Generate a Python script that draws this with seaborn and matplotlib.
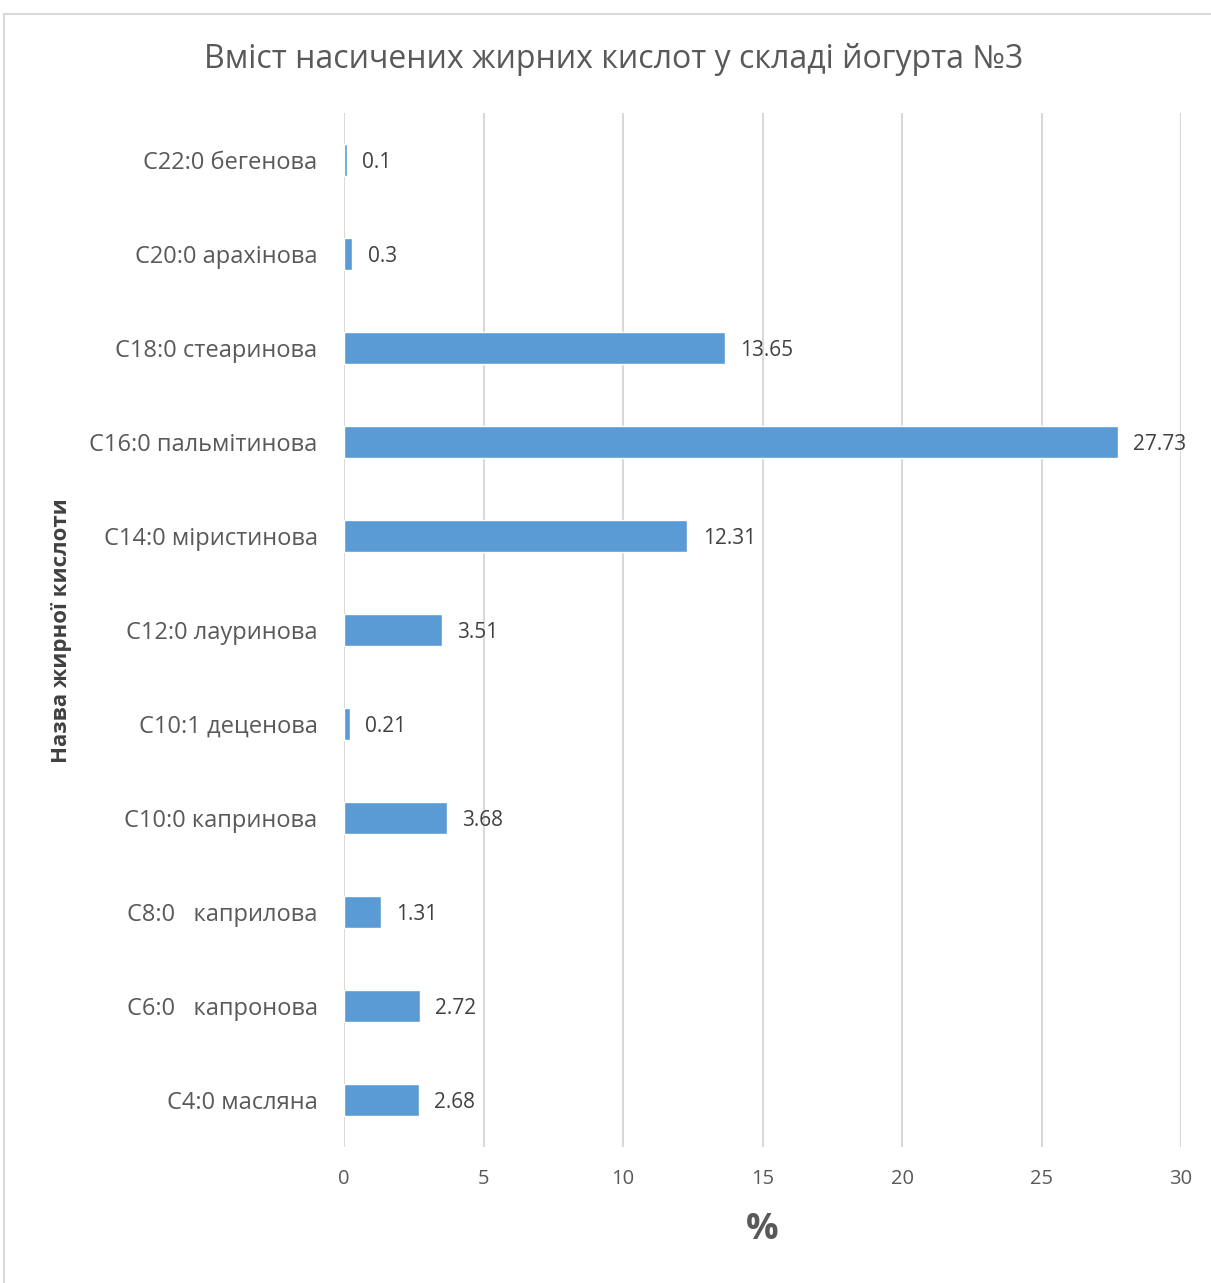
import matplotlib
matplotlib.use("Agg")
import matplotlib.pyplot as plt
import seaborn as sns
import pandas as pd
from matplotlib.patches import Rectangle

acids = [
    "C22:0 бегенова",
    "C20:0 арахінова",
    "C18:0 стеаринова",
    "C16:0 пальмітинова",
    "C14:0 міристинова",
    "C12:0 лауринова",
    "C10:1 деценова",
    "C10:0 капринова",
    "C8:0   каприлова",
    "C6:0   капронова",
    "C4:0 масляна",
]
values = [0.1, 0.3, 13.65, 27.73, 12.31, 3.51, 0.21, 3.68, 1.31, 2.72, 2.68]
x_ticks = [0, 5, 10, 15, 20, 25, 30]

title = "Вміст насичених жирних кислот у складі йогурта №3"
x_label = "%"
y_label = "Назва жирної кислоти"

sns.set_theme(style="white")
plt.rcParams["font.family"] = ["Open Sans", "DejaVu Sans"]

df = pd.DataFrame({"acid": acids, "value": values})

W, H = 1211, 1283
fig = plt.figure(figsize=(W / 100, H / 100), dpi=100)
ax = fig.add_axes([344 / W, 1 - 1147 / H, (1181 - 344) / W, (1147 - 113) / H])

sns.barplot(data=df, x="value", y="acid", order=acids, orient="h",
            color="#5B9BD5", saturation=1, width=0.35, ax=ax)

ax.set_xlim(0, 30)
ax.set_xticks(x_ticks)
ax.set_xticklabels([str(t) for t in x_ticks])
ax.xaxis.grid(True, color="#D9D9D9", linewidth=1.5)
ax.set_axisbelow(True)
for s in ax.spines.values():
    s.set_visible(False)
ax.tick_params(axis="x", length=0, pad=16, labelsize=14.5, labelcolor="#595959")
ax.tick_params(axis="y", length=0, pad=19, labelsize=17, labelcolor="#595959")

for i, v in enumerate(values):
    ax.text(v + 0.55, i, f"{v:g}", va="center_baseline", ha="left",
            fontsize=15, color="#404040")

ax.set_xlabel("")
ax.set_ylabel("")
fig.text(762 / W, 1 - 1230 / H, x_label, ha="center", va="center",
         fontsize=26, fontweight="bold", color="#595959")
fig.text(62 / W, 1 - 631 / H, y_label, ha="center", va="center",
         rotation=90, fontsize=16, fontweight="bold", color="#404040")
fig.text(614 / W, 1 - 60 / H, title, ha="center", va="center",
         fontsize=23, color="#595959")

fig.patches.append(Rectangle((4 / W, -0.05), 1.0, 1 - 14 / H + 0.05,
                             transform=fig.transFigure, fill=False,
                             edgecolor="#D9D9D9", linewidth=1.5))

fig.savefig("out.png", dpi=100, facecolor="white")
